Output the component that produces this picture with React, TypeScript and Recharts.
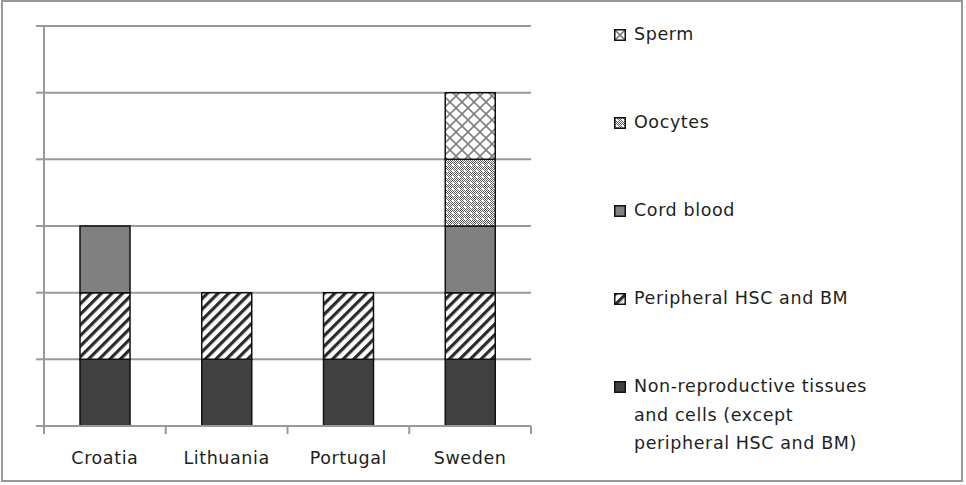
import React from 'react';
import { BarChart, Bar, XAxis, YAxis, CartesianGrid, Legend } from 'recharts';

const countries = ['Croatia', 'Lithuania', 'Portugal', 'Sweden'];
const nonReproductive = [1, 1, 1, 1];
const peripheralHsc = [1, 1, 1, 1];
const cordBlood = [1, 0, 0, 1];
const oocytes = [0, 0, 0, 1];
const sperm = [0, 0, 0, 1];
const yTicks = [0, 1, 2, 3, 4, 5, 6];

const seriesNames = {
  nonReproductive: 'Non-reproductive tissues\nand cells (except\nperipheral HSC and BM)',
  peripheralHsc: 'Peripheral HSC and BM',
  cordBlood: 'Cord blood',
  oocytes: 'Oocytes',
  sperm: 'Sperm',
};

const data = countries.map((name, i) => ({
  name,
  nonReproductive: nonReproductive[i],
  peripheralHsc: peripheralHsc[i],
  cordBlood: cordBlood[i],
  oocytes: oocytes[i],
  sperm: sperm[i],
}));

const FONT = '"DejaVu Sans", sans-serif';
const AXIS = '#999999';
const TEXT = '#1e1e1e';

const fills: Record<string, string> = {
  nonReproductive: '#404040',
  peripheralHsc: 'url(#hatch)',
  cordBlood: '#808080',
  oocytes: 'url(#dots)',
  sperm: 'url(#cross)',
};

const Patterns = () => (
  <defs>
    <pattern id="hatch" width="7.5" height="7.5" patternUnits="userSpaceOnUse" patternTransform="rotate(45)">
      <rect width="7.5" height="7.5" fill="#fff" />
      <line x1="1.6" y1="0" x2="1.6" y2="7.5" stroke="#2a2a2a" strokeWidth="3.2" />
    </pattern>
    <pattern id="checker" width="2" height="2" patternUnits="userSpaceOnUse">
      <rect width="2" height="2" fill="#fff" />
      <rect width="1" height="1" fill="#5e5e5e" />
      <rect x="1" y="1" width="1" height="1" fill="#5e5e5e" />
    </pattern>
    <pattern id="dots" width="6" height="6" patternUnits="userSpaceOnUse">
      <rect width="6" height="6" fill="url(#checker)" />
      <rect x="2" y="2" width="2" height="2" fill="#fff" />
    </pattern>
    <pattern id="cross" width="12" height="12" patternUnits="userSpaceOnUse">
      <rect width="12" height="12" fill="#fff" />
      <line x1="0" y1="0" x2="12" y2="12" stroke="#808080" strokeWidth="1.6" />
      <line x1="12" y1="0" x2="0" y2="12" stroke="#808080" strokeWidth="1.6" />
    </pattern>
  </defs>
);

const CategoryTick = (props: any) => {
  const { x, y, payload, index, visibleTicksCount } = props;
  const off = payload.offset || 0;
  return (
    <g>
      <line x1={x - off} y1={y} x2={x - off} y2={y + 8} stroke={AXIS} strokeWidth={2} />
      {index === visibleTicksCount - 1 && (
        <line x1={x + off} y1={y} x2={x + off} y2={y + 8} stroke={AXIS} strokeWidth={2} />
      )}
      <text x={x} y={y + 38} textAnchor="middle" fill={TEXT} fontFamily={FONT} fontSize={17.5} letterSpacing={0.6}>
        {payload.value}
      </text>
    </g>
  );
};

const EmptyTick = () => <g />;

const legendOrder = ['sperm', 'oocytes', 'cordBlood', 'peripheralHsc', 'nonReproductive'];

const LegendContent = () => (
  <div style={{ width: 340, paddingLeft: 83, paddingTop: 20, boxSizing: 'border-box', fontFamily: FONT, fontSize: 17.5, letterSpacing: 0.6, color: TEXT }}>
    {legendOrder.map((key) => (
      <div key={key} style={{ display: 'flex', alignItems: 'flex-start', height: 88 }}>
        <svg width={12} height={12} style={{ marginTop: 8.5, marginRight: 8, flex: 'none' }}>
          <Patterns />
          <rect x={0.75} y={0.75} width={10.5} height={10.5} fill={fills[key]} stroke="#111" strokeWidth={1.5} />
        </svg>
        <div style={{ whiteSpace: 'pre', lineHeight: '28.5px' }}>{(seriesNames as any)[key]}</div>
      </div>
    ))}
  </div>
);

export default function App() {
  return (
    <div style={{ position: 'absolute', left: 0, top: 0, width: 966, height: 485, background: '#fff' }}>
      <div style={{ position: 'absolute', left: 1, top: 0, width: 962, height: 482, border: '2px solid #999', boxSizing: 'border-box' }} />
      <BarChart width={966} height={485} data={data} margin={{ top: 26, right: 95, bottom: 29, left: 43 }} barSize={50}>
        <Patterns />
        <CartesianGrid vertical={false} stroke={AXIS} strokeWidth={2} />
        <YAxis
          type="number"
          width={1}
          domain={[0, 6]}
          ticks={yTicks}
          interval={0}
          tick={<EmptyTick />}
          tickSize={8}
          tickLine={{ stroke: AXIS, strokeWidth: 2 }}
          axisLine={{ stroke: AXIS, strokeWidth: 2 }}
        />
        <XAxis
          dataKey="name"
          height={30}
          tickSize={0}
          tickMargin={0}
          tickLine={false}
          interval={0}
          axisLine={{ stroke: AXIS, strokeWidth: 2 }}
          tick={<CategoryTick />}
        />
        <Legend
          layout="vertical"
          align="right"
          verticalAlign="top"
          content={<LegendContent />}
          wrapperStyle={{ top: 0 }}
        />
        {['nonReproductive', 'peripheralHsc', 'cordBlood', 'oocytes', 'sperm'].map((key) => (
          <Bar
            key={key}
            dataKey={key}
            name={(seriesNames as any)[key]}
            stackId="a"
            fill={fills[key]}
            stroke="#111"
            strokeWidth={1.5}
            isAnimationActive={false}
          />
        ))}
      </BarChart>
    </div>
  );
}
